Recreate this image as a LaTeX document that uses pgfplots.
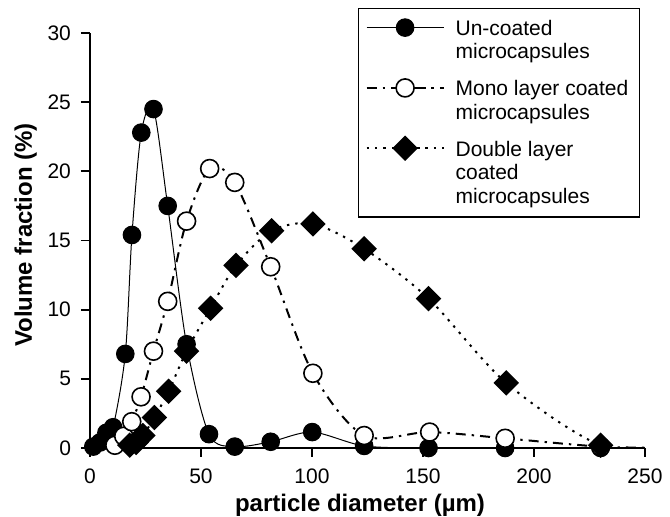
\documentclass[border=0pt]{standalone}
\usepackage{fontspec}
\setmainfont{Liberation Sans}
\usepackage{pgfplots}
\pgfplotsset{compat=1.18}

\begin{document}
\begin{tikzpicture}
\useasboundingbox (0,0) rectangle (335pt,258.5pt);
\begin{axis}[
    at={(45pt,34.5pt)}, anchor=south west,
    scale only axis,
    width=277.5pt, height=207.5pt,
    xmin=0, xmax=250, ymin=0, ymax=30,
    xtick={0,50,...,250}, ytick={0,5,...,30},
    axis x line*=bottom, axis y line*=left,
    axis line style={line width=0.9pt},
    tick style={line width=0.9pt, black},
    tick align=outside, major tick length=4.5pt,
    tick label style={font=\fontsize{10.5}{12}\selectfont},
    xticklabel style={yshift=-2.5pt},
    yticklabel style={xshift=-1.5pt},
    /pgf/number format/assume math mode=true,
    xlabel={\textbf{particle diameter (µm)}},
    ylabel={\textbf{Volume fraction (\%)}},
    label style={font=\fontsize{12}{14}\selectfont},
    xlabel style={at={(axis description cs:0.4865,-0.1542)}, anchor=base},
    ylabel style={at={(axis description cs:-0.1045,0.513)}, anchor=base},
    legend style={at={(0.4829,1.0602)}, anchor=north west,
        draw=black, line width=0.6pt,
        font=\fontsize{10.5}{11.75}\selectfont,
        cells={align=left, anchor=north west},
        /tikz/every odd column/.append style={column sep=3.5pt},
        row sep=5pt, inner xsep=3.5pt, inner ysep=3.5pt},
    legend image code/.code={%
        \draw[mark repeat=2, mark phase=2] plot coordinates {(0pt,-6pt) (19.25pt,-6pt) (38.5pt,-6pt)};},
]
\addplot[black, line width=0.5pt, smooth, tension=0.5,
    mark=*, mark size=4.4pt, mark options={solid, fill=black}] coordinates {
    (1.5,0.1) (4.5,0.4) (7.4,1.1) (10.4,1.5) (15.9,6.8) (18.9,15.4) (23.1,22.8)
    (28.6,24.5) (35,17.5) (43.5,7.5) (53.6,1.0) (65.2,0.1) (81.4,0.45)
    (100.1,1.15) (123.5,0.15) (152.5,0) (187,0) (230,0)};
\addlegendentry{Un-coated\\microcapsules}
\addplot[black, line width=1pt, smooth, tension=0.5,
    dash pattern=on 5pt off 3pt on 1.2pt off 3pt,
    mark=*, mark size=4.5pt, mark options={solid, fill=white, draw=black, line width=0.8pt}] coordinates {
    (11.2,0.2) (15.2,0.85) (18.8,1.9) (23,3.7) (28.6,7.0) (35,10.6) (43.5,16.4)
    (53.9,20.2) (65.2,19.2) (81.4,13.1) (100.4,5.4) (123.5,0.9) (153,1.15)
    (187,0.7) (230,0.1) (265,0)};
\addlegendentry{Mono layer coated\\microcapsules}
\addplot[black, line width=1pt, smooth, tension=0.5,
    dash pattern=on 1.2pt off 3pt,
    mark=square*, mark size=4pt, mark options={solid, fill=black, rotate=45}] coordinates {
    (17.9,0.2) (20.8,0.4) (23.8,0.9) (29,2.2) (35.4,4.1) (43.5,7.0) (54.3,10.1)
    (65.8,13.2) (81.8,15.7) (100.4,16.2) (123.5,14.4) (152.5,10.8) (187.5,4.7)
    (230,0.2) (265,0)};
\addlegendentry{Double layer\\coated\\microcapsules}
\end{axis}
\end{tikzpicture}
\end{document}
